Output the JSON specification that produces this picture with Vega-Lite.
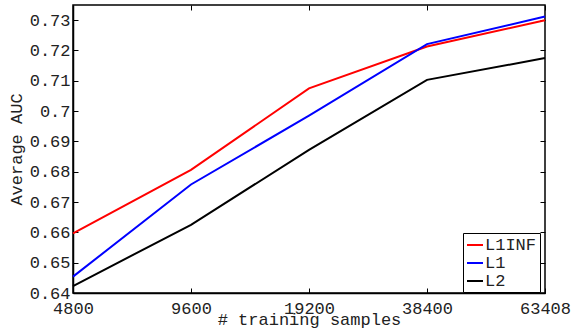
{
  "$schema": "https://vega.github.io/schema/vega-lite/v6.json",
  "autosize": {"type": "none"},
  "padding": {"left": 73, "top": 5, "right": 28, "bottom": 35},
  "width": 472,
  "height": 288,
  "background": "white",
  "config": {
    "view": {"stroke": "black", "strokeWidth": 1.5},
    "font": "Liberation Mono",
    "axis": {
      "grid": false,
      "domainColor": "black",
      "domainWidth": 1.5,
      "tickColor": "black",
      "tickWidth": 1,
      "labelColor": "#222",
      "titleColor": "#222",
      "labelFont": "Liberation Mono",
      "titleFont": "Liberation Mono",
      "labelFontSize": 17,
      "titleFontSize": 17,
      "titleFontWeight": "normal"
    }
  },
  "data": {
    "values": [
      {"n": "4800", "method": "L1INF", "auc": 0.6597},
      {"n": "9600", "method": "L1INF", "auc": 0.6806},
      {"n": "19200", "method": "L1INF", "auc": 0.7075},
      {"n": "38400", "method": "L1INF", "auc": 0.7213},
      {"n": "63408", "method": "L1INF", "auc": 0.7300},
      {"n": "4800", "method": "L1", "auc": 0.6454},
      {"n": "9600", "method": "L1", "auc": 0.6758},
      {"n": "19200", "method": "L1", "auc": 0.6985},
      {"n": "38400", "method": "L1", "auc": 0.7221},
      {"n": "63408", "method": "L1", "auc": 0.7312},
      {"n": "4800", "method": "L2", "auc": 0.6423},
      {"n": "9600", "method": "L2", "auc": 0.6625},
      {"n": "19200", "method": "L2", "auc": 0.6872},
      {"n": "38400", "method": "L2", "auc": 0.7103},
      {"n": "63408", "method": "L2", "auc": 0.7175}
    ]
  },
  "resolve": {"axis": {"x": "independent", "y": "independent"}},
  "layer": [
    {
      "mark": {"type": "line", "strokeWidth": 2},
      "encoding": {
        "x": {
          "field": "n", "type": "ordinal",
          "sort": ["4800", "9600", "19200", "38400", "63408"],
          "scale": {"type": "point", "padding": 0},
          "axis": {"title": "# training samples", "labelAngle": 0, "tickSize": -5, "labelPadding": 12, "titlePadding": -5}
        },
        "y": {
          "field": "auc", "type": "quantitative",
          "scale": {"domain": [0.64, 0.735], "nice": false, "zero": false},
          "axis": {"title": "Average AUC", "values": [0.64, 0.65, 0.66, 0.67, 0.68, 0.69, 0.7, 0.71, 0.72, 0.73], "format": ".2~f", "tickSize": -5, "labelPadding": 8, "titlePadding": 4}
        },
        "color": {
          "field": "method", "type": "nominal",
          "sort": ["L1INF", "L1", "L2"],
          "scale": {"domain": ["L1INF", "L1", "L2"], "range": ["#ff0000", "#0000ff", "#000000"]},
          "legend": {
            "title": null,
            "orient": "none",
            "legendX": 390,
            "legendY": 228,
            "symbolType": "stroke",
            "symbolStrokeWidth": 2,
            "symbolSize": 256,
            "labelFont": "Liberation Mono",
            "labelFontSize": 17,
            "labelColor": "#222",
            "labelOffset": 1,
            "rowPadding": 1,
            "padding": 3,
            "strokeColor": "black",
            "fillColor": "white"
          }
        }
      }
    },
    {
      "mark": {"type": "line", "strokeOpacity": 0},
      "encoding": {
        "x": {
          "field": "n", "type": "ordinal",
          "sort": ["4800", "9600", "19200", "38400", "63408"],
          "scale": {"type": "point", "padding": 0},
          "axis": {"orient": "top", "title": null, "labels": false, "tickSize": -5, "domain": false}
        },
        "y": {
          "field": "auc", "type": "quantitative",
          "axis": {"orient": "right", "title": null, "labels": false, "values": [0.64, 0.65, 0.66, 0.67, 0.68, 0.69, 0.7, 0.71, 0.72, 0.73], "tickSize": -5, "domain": false}
        }
      }
    }
  ]
}
